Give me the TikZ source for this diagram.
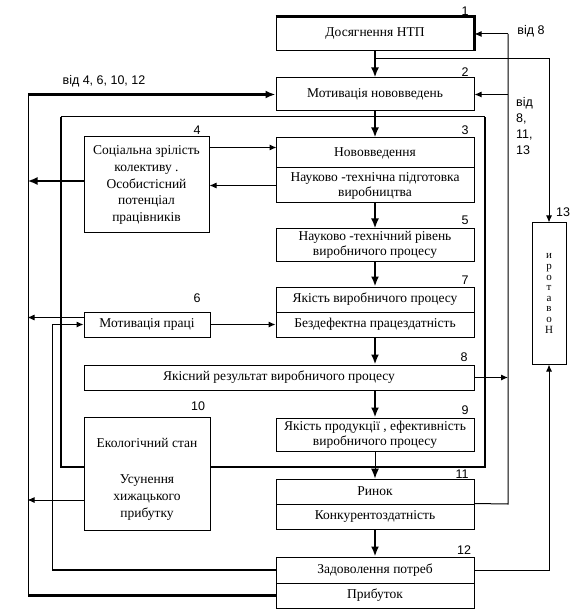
\documentclass[tikz,border=0pt]{standalone}
\usepackage{fontspec}
\setmainfont{Liberation Serif}
\newfontfamily\lblsans{Liberation Sans}
\usetikzlibrary{arrows.meta}
\newcommand{\boxfont}{\fontsize{13.5}{15}\selectfont}
\newcommand{\lblfont}{\lblsans\fontsize{12.5}{16}\selectfont}
\tikzset{
  box/.style={draw, line width=1pt, fill=white, inner sep=0pt, font=\boxfont, align=center},
  thinln/.style={line width=1pt},
  thickln/.style={line width=2.6pt},
  tarr/.style={thinln, -{Latex[length=7pt,width=6pt]}},
  barr/.style={thickln, -{Latex[length=10pt,width=8pt]}},
  tbarr/.style={thinln, -{Latex[length=10pt,width=8pt]}},
  lbl/.style={font=\lblfont, inner sep=0pt}
}
\begin{document}
\begin{tikzpicture}[x=1pt,y=-1pt]
\useasboundingbox (0,0) rectangle (573,609);
% inner frame
\draw[thickln] (61,117) -- (61,467) -- (485,467) -- (485,117);
\draw[thinln] (61,117) -- (485,117);
% boxes
\node[box, minimum width=198, minimum height=34] (n1) at (375,34) {Досягнення НТП};
\draw[line width=2.6pt] (n1.north west) -- (n1.north east) -- (n1.south east);
\node[box, minimum width=198, minimum height=33] (n2) at (375,94.5) {Мотивація нововведень};
\node[box, minimum width=198, minimum height=30] (n3a) at (375,153) {Нововведення};
\node[box, minimum width=198, minimum height=35] (n3b) at (375,185.5) {Науково -технічна підготовка\\виробництва};
\node[box, minimum width=198, minimum height=32] (n5) at (375,245) {Науково -технічний рівень\\виробничого процесу};
\node[box, minimum width=198, minimum height=25] (n7a) at (375,299.5) {Якість виробничого процесу};
\node[box, minimum width=198, minimum height=25] (n7b) at (375,324.5) {Бездефектна працездатність};
\node[box, minimum width=390, minimum height=25] (n8) at (279,377.5) {Якісний результат виробничого процесу};
\node[box, minimum width=198, minimum height=33] (n9) at (375,434.5) {Якість продукції , ефективність\\виробничого процесу};
\node[box, minimum width=198, minimum height=25] (n11a) at (375,491.5) {Ринок};
\node[box, minimum width=198, minimum height=25] (n11b) at (375,516.5) {Конкурентоздатність};
\node[box, minimum width=198, minimum height=26] (n12a) at (375,570) {Задоволення потреб};
\node[box, minimum width=198, minimum height=25] (n12b) at (375,595.5) {Прибуток};
\node[box, minimum width=125, minimum height=96, font=\fontsize{13.5}{16.8}\selectfont] (n4) at (146.5,185) {Соціальна зрілість\\колективу .\\Особистісний\\потенціал\\працівників};
\node[box, minimum width=126, minimum height=25] (n6) at (147,324.5) {Мотивація праці};
\node[box, minimum width=126, minimum height=113] (n10) at (147,473.5) {};
\node[font=\boxfont, inner sep=0pt] (t10a) at (147,443) {Екологічний стан};
\node[font=\fontsize{13.5}{17}\selectfont, align=center, inner sep=0pt] (t10b) at (147,498) {Усунення\\хижацького\\прибутку};
\node[box, minimum width=34, minimum height=141, font=\fontsize{11}{10.6}\selectfont] (n13) at (549,293.5) {и\\р\\о\\т\\а\\в\\о\\Н};
% number labels
\node[lbl] (l1) at (465,11) {1};
\node[lbl] (l2) at (465,72) {2};
\node[lbl] (l3) at (465,130) {3};
\node[lbl] (l4) at (197,130) {4};
\node[lbl] (l5) at (465,220) {5};
\node[lbl] (l6) at (197,298) {6};
\node[lbl] (l7) at (465,280) {7};
\node[lbl] (l8) at (464,357) {8};
\node[lbl] (l9) at (465,410) {9};
\node[lbl] (l10) at (198,406) {10};
\node[lbl] (l11) at (462,474) {11};
\node[lbl] (l12) at (464,550) {12};
\node[lbl] (l13) at (563,212) {13};
\node[lbl] (v8) at (531,31) {від 8};
\node[lbl] (v4) at (104,81) {від 4, 6, 10, 12};
\node[lbl, align=left, anchor=north west] (v811) at (516,97) {від\\8,\\11,\\13};
% main vertical chain
\draw[barr] (n1.south) -- (n2.north);
\draw[barr] (n2.south) -- (n3a.north);
\draw[barr] (n3b.south) -- (n5.north);
\draw[barr] (n5.south) -- (n7a.north);
\draw[barr] (n7b.south) -- (n7b.south |- n8.north);
\draw[barr] (n9.north |- n8.south) -- (n9.north);
\draw[tbarr] (n9.south) -- (n11a.north);
\draw[barr] (n11b.south) -- (n12a.north);
% branch to 13
\coordinate (j1) at (375,59);
\draw[tarr] (j1) -| (n13.north);
\draw[tarr] (n12a.east) -| (n13.south);
% right bus
\coordinate (rb1) at (508,34);
\coordinate (rb2) at (508,94.5);
\coordinate (rb3) at (508,504);
\draw[thinln] (n11b.north east) -- (rb3) -- (rb1);
\draw[tarr] (rb1) -- (n1.east);
\draw[tarr] (rb2) -- (n2.east);
\draw[tarr] (n8.east) -- (n8.east -| rb1);
% 4 <-> 3
\draw[tarr] ([yshift=-11pt]n4.north east) -- ++(67,0);
\draw[tarr] (n3b.west) -- (n3b.west -| n4.east);
% 6 -> 7
\draw[tarr] (n6.east) -- (n7b.west);
% left outer bus
\coordinate (lb1) at (28,94.5);
\coordinate (lb2) at (28,595.5);
\draw[thickln] (n12b.west) -- (lb2);
\draw[thinln] (lb2) -- (lb1);
\draw[barr] (lb1) -- (n2.west);
\draw[barr] ([yshift=4pt]n4.west) -- ++(-56,0);
\draw[tarr] ([yshift=7pt]n6.west) -- ++(-56,0);
\draw[tarr] ([yshift=-26.5pt]n10.west) -- ++(-56,0);
% second left bus
\coordinate (lc1) at (52,324.5);
\coordinate (lc2) at (52,570);
\draw[thickln] (n12a.west) -- (lc2);
\draw[thinln] (lc2) -- (lc1);
\draw[tarr] (lc1) -- (n6.west);
\end{tikzpicture}
\end{document}
